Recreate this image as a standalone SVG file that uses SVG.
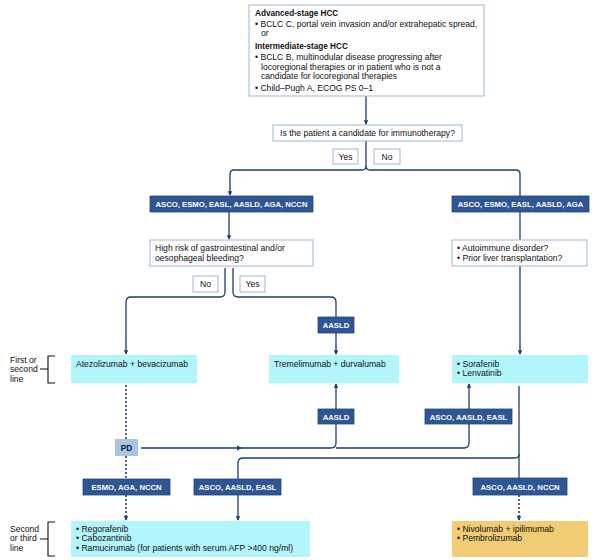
<svg xmlns="http://www.w3.org/2000/svg" width="600" height="560" viewBox="0 0 600 560">
<defs>
<marker id="ah" viewBox="0 0 6 6" refX="5" refY="3" markerWidth="4.5" markerHeight="4.5" orient="auto" markerUnits="userSpaceOnUse">
<path d="M0,0 L6,3 L0,6 z" fill="#1e3c78"/>
</marker>
<style>
text{font-family:"Liberation Sans",Arial,sans-serif;font-size:8.6px;fill:#111;}
.b{font-weight:bold;font-size:8.2px;}
.w{fill:#fff;font-weight:bold;text-anchor:middle;font-size:7.7px;}
.c{text-anchor:middle;}
.wb{fill:#fff;stroke:#9bb7da;stroke-width:1;}
.db{fill:#2f5694;stroke:#24467f;stroke-width:0.8;}
.cy{fill:#b2f6fb;}
.gd{fill:#f0cd74;}
.pd{fill:#a9c5e6;}
.ln{fill:none;stroke:#1e3c78;stroke-width:1.3;}
.dt{fill:none;stroke:#1e3c78;stroke-width:1.6;stroke-dasharray:2,2;}
.br{fill:none;stroke:#111;stroke-width:1.1;}
</style>
</defs>
<rect width="600" height="560" fill="#fff"/>

<g id="connectors">
<path class="ln" d="M366,96 V124" marker-end="url(#ah)"/>
<path class="ln" d="M366,141 V166 Q366,170 362,170 H234 Q230,170 230,174 V195" marker-end="url(#ah)"/>
<path class="ln" d="M366,166 Q366,170 370,170 H516 Q520,170 520,174 V196"/>
<path class="ln" d="M229,212 V239" marker-end="url(#ah)"/>
<path class="ln" d="M520,212 V240"/>
<path class="ln" d="M520,266 V354" marker-end="url(#ah)"/>
<path class="ln" d="M225,268 V292 Q225,297 220,297 H131 Q126,297 126,302 V354" marker-end="url(#ah)"/>
<path class="ln" d="M233,268 V292 Q233,297 238,297 H331 Q336,297 336,302 V317"/>
<path class="ln" d="M336,333 V354" marker-end="url(#ah)"/>
<path class="dt" d="M126,385 V439"/>
<path class="dt" d="M126,456 V479"/>
<path class="dt" d="M126,495 V520" marker-end="url(#ah)"/>
<path class="ln" d="M141,448 H331 Q336,448 336,443 V424"/>
<path class="ln" d="M336,448 H464 Q469,448 469,443 V424"/>
<path class="ln" d="M336,409 V384" marker-end="url(#ah)"/>
<path class="ln" d="M469,409 V384" marker-end="url(#ah)"/>
<path d="M237,445.5 L242,448 L237,450.5 z" fill="#1e3c78"/>
<path class="ln" d="M519,386 V478"/>
<path class="ln" d="M519,454 Q519,458 515,458 H243 Q238,458 238,463 V479"/>
<path class="ln" d="M238,495 V520" marker-end="url(#ah)"/>
<path class="dt" d="M519,495 V520" marker-end="url(#ah)"/>
</g>

<g id="n-top">
<rect class="wb" x="249" y="5" width="235" height="91"/>
<text class="b" x="255" y="16">Advanced-stage HCC</text>
<text x="255" y="27">• BCLC C, portal vein invasion and/or extrahepatic spread,</text>
<text x="261" y="36">or</text>
<text class="b" x="255" y="49">Intermediate-stage HCC</text>
<text x="255" y="60">• BCLC B, multinodular disease progressing after</text>
<text x="261" y="70">locoregional therapies or in patient who is not a</text>
<text x="261" y="79">candidate for locoregional therapies</text>
<text x="255" y="91">• Child–Pugh A, ECOG PS 0–1</text>
</g>

<g id="n-question">
<rect class="wb" x="273" y="125" width="189" height="16"/>
<text class="c" x="367.5" y="136">Is the patient a candidate for immunotherapy?</text>
</g>
<g id="n-yes1">
<rect class="wb" x="333" y="149" width="25" height="15"/>
<text class="c" x="345.5" y="159.5">Yes</text>
</g>
<g id="n-no1">
<rect class="wb" x="374" y="149" width="26" height="15"/>
<text class="c" x="387" y="159.5">No</text>
</g>

<g id="n-guide-left">
<rect class="db" x="150" y="196" width="163" height="16"/>
<text class="w" x="231.5" y="207">ASCO, ESMO, EASL, AASLD, AGA, NCCN</text>
</g>
<g id="n-guide-right">
<rect class="db" x="452" y="196" width="137" height="16"/>
<text class="w" x="520.5" y="207">ASCO, ESMO, EASL, AASLD, AGA</text>
</g>

<g id="n-bleeding">
<rect class="wb" x="150" y="240" width="163" height="26"/>
<text x="155" y="251">High risk of gastrointestinal and/or</text>
<text x="155" y="261">oesophageal bleeding?</text>
</g>
<g id="n-autoimmune">
<rect class="wb" x="452" y="240" width="135" height="26"/>
<text x="457" y="251">• Autoimmune disorder?</text>
<text x="457" y="261">• Prior liver transplantation?</text>
</g>

<g id="n-no2">
<rect class="wb" x="193" y="276" width="25" height="16"/>
<text class="c" x="205.5" y="287">No</text>
</g>
<g id="n-yes2">
<rect class="wb" x="240" y="276" width="25" height="16"/>
<text class="c" x="252.5" y="287">Yes</text>
</g>

<g id="n-aasld1">
<rect class="db" x="318" y="317" width="36" height="16"/>
<text class="w" x="336" y="328">AASLD</text>
</g>

<g id="n-atezo">
<rect class="cy" x="71" y="355" width="126" height="28"/>
<text x="76" y="367">Atezolizumab + bevacizumab</text>
</g>
<g id="n-treme">
<rect class="cy" x="269" y="355" width="130" height="28"/>
<text x="274" y="367">Tremelimumab + durvalumab</text>
</g>
<g id="n-sora">
<rect class="cy" x="452" y="355" width="136" height="28"/>
<text x="457" y="367">• Sorafenib</text>
<text x="457" y="376">• Lenvatinib</text>
</g>

<g id="n-line1">
<text x="10" y="363">First or</text>
<text x="10" y="372">second</text>
<text x="10" y="382">line</text>
<path class="br" d="M55,356 H48 V383 H55 M40,369 H48"/>
</g>

<g id="n-aasld2">
<rect class="db" x="318" y="409" width="36" height="15"/>
<text class="w" x="336" y="419.5">AASLD</text>
</g>
<g id="n-guide-mid">
<rect class="db" x="425" y="409" width="87" height="15"/>
<text class="w" x="468.5" y="419.5">ASCO, AASLD, EASL</text>
</g>

<g id="n-pd">
<rect class="pd" x="115" y="439" width="23" height="17"/>
<text class="b c" x="126.5" y="450.5">PD</text>
</g>

<g id="n-guide-esmo">
<rect class="db" x="83" y="479" width="87" height="16"/>
<text class="w" x="126.5" y="490">ESMO, AGA, NCCN</text>
</g>
<g id="n-guide-asco2">
<rect class="db" x="194" y="479" width="87" height="16"/>
<text class="w" x="237.5" y="490">ASCO, AASLD, EASL</text>
</g>
<g id="n-guide-asco3">
<rect class="db" x="473" y="478" width="94" height="17"/>
<text class="w" x="520" y="489.5">ASCO, AASLD, NCCN</text>
</g>

<g id="n-rego">
<rect class="cy" x="71" y="521" width="239" height="36"/>
<text x="76" y="532">• Regorafenib</text>
<text x="76" y="541">• Cabozantinib</text>
<text x="76" y="551">• Ramucirumab (for patients with serum AFP &gt;400 ng/ml)</text>
</g>
<g id="n-nivo">
<rect class="gd" x="452" y="521" width="136" height="36"/>
<text x="457" y="532">• Nivolumab + ipilimumab</text>
<text x="457" y="541">• Pembrolizumab</text>
</g>

<g id="n-line2">
<text x="10" y="532">Second</text>
<text x="10" y="541">or third</text>
<text x="10" y="551">line</text>
<path class="br" d="M55,522 H48 V556 H55 M40,539 H48"/>
</g>
</svg>
